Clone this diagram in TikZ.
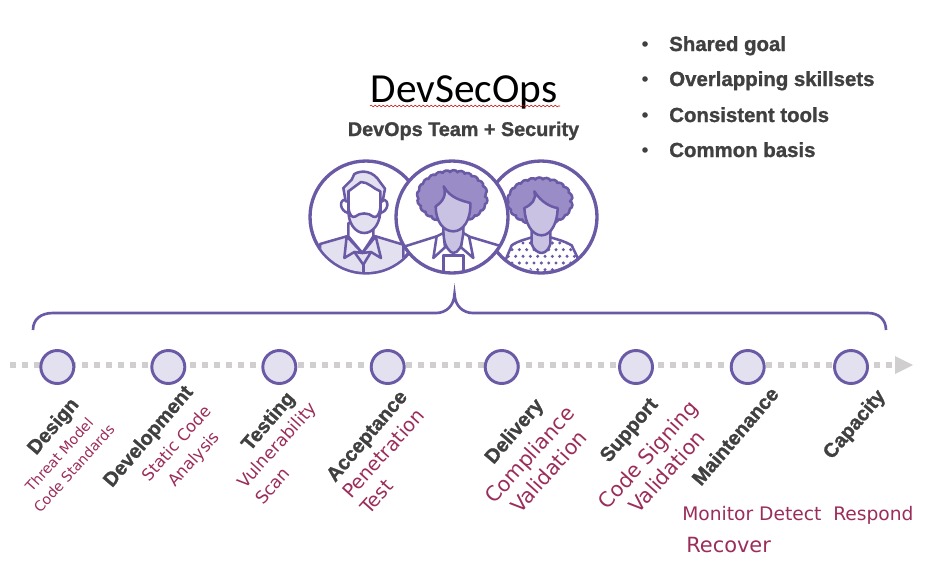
\documentclass[tikz,border=0pt]{standalone}
\usepackage{fontspec}
\setmainfont{Liberation Sans}[BoldFeatures={FakeBold=1.2}]
\newfontfamily\carl{Carlito}
\newfontfamily\djv{DejaVu Sans}
\usetikzlibrary{decorations.pathmorphing,arrows.meta}
\definecolor{pur}{HTML}{6A5AA6}
\definecolor{lt}{HTML}{E3E0F0}
\definecolor{mid}{HTML}{C9C2E2}
\definecolor{drk}{HTML}{9A8CC6}
\definecolor{grey}{HTML}{D0CECE}
\definecolor{ink}{HTML}{404040}
\definecolor{wine}{HTML}{9B2D5A}
\tikzset{
  x=0.75pt,y=-0.75pt,
  ring/.style={circle,draw=pur,line width=2.2pt,minimum size=33*0.75pt,inner sep=0pt,fill=lt},
  face/.style={circle,draw=pur,line width=2.5pt,minimum size=112*0.75pt,inner sep=0pt,fill=white},
  ln/.style={draw=pur,line width=1.9pt,line join=round,line cap=round},
  stage/.style={rotate=49.5,text=ink,font=\fontsize{15pt}{16pt}\selectfont\bfseries,inner sep=0pt},
  sub/.style={rotate=48,text=wine,align=center,inner sep=0pt},
  subl/.style={rotate=48,text=wine,align=left,inner sep=0pt},
  flat/.style={text=wine,inner sep=0pt,anchor=base west,font=\djv},
  bul/.style={text=ink,font=\fontsize{15.3pt}{17pt}\selectfont\bfseries,inner sep=0pt,anchor=base west},
  dotb/.style={text=ink,font=\fontsize{14.85pt}{17pt}\selectfont\bfseries,inner sep=0pt,anchor=base},
  bumpy/.style={decorate,decoration={bumps,segment length=11pt,amplitude=1.8pt}}
}
\begin{document}
\begin{tikzpicture}
\useasboundingbox (0,0) rectangle (930,568);
% title
\node[inner sep=0pt,anchor=base,font=\carl\fontsize{31pt}{33pt}\selectfont] (title) at (464,102) {DevSecOps};
\draw[red!75!black,line width=0.4pt,decorate,decoration={snake,segment length=3pt,amplitude=0.6pt}] (370,106) -- (560,106);
\node[dotb] (team) at (463.5,136) {DevOps Team + Security};
% bullets
\foreach \n/\y/\t in {b1/51/Shared goal,b2/86/Overlapping skillsets,b3/122/Consistent tools,b4/157/Common basis}{
  \node[bul] (\n) at (669,\y) {\t};
  \fill[ink] (645,\y-7) circle (2.8);
}
% face 3 (right)
\node[face] (f3) at (541,217) {};
\begin{scope}
\clip (541,217) circle (55);
\begin{scope}[shift={(490,158)},scale=1/3]
  \begin{scope}
    \clip (45,310) -- (65,262) .. controls (85,248) and (105,245) .. (125,238) -- (180,238) .. controls (205,245) and (225,250) .. (245,262) -- (268,310) -- (170,350) -- cycle;
    \foreach \px in {55,77,...,265}{\foreach \py/\o in {255/0,275/11,295/0,315/11,335/0}{
       \fill[pur] (\px+\o,\py) circle (5);}}
  \end{scope}
  \path[ln,fill=mid] (125,215) -- (125,258) .. controls (130,275) and (145,285) .. (155,285) .. controls (168,285) and (178,270) .. (181,258) -- (181,215) -- cycle;
  \draw[ln] (45,310) -- (65,262) .. controls (85,248) and (105,245) .. (125,238);
  \draw[ln] (181,238) .. controls (205,245) and (225,250) .. (245,262) -- (268,310);
  \path[ln,fill=drk,bumpy] (150,130) ellipse (90 and 64);
  \path[ln,fill=mid] (103,150) .. controls (105,195) and (125,232) .. (155,232) .. controls (185,232) and (203,190) .. (203,150) .. controls (185,148) and (155,135) .. (133,100) .. controls (140,125) and (125,140) .. (103,150) -- cycle;
\end{scope}
\end{scope}
% face 1 (left)
\node[face] (f1) at (366,217) {};
\begin{scope}
\clip (366,217) circle (55);
\begin{scope}[shift={(305,158)},scale=1/3]
  \path[ln,fill=lt] (45,258) -- (125,235) -- (212,235) -- (295,260) -- (295,350) -- (45,350) -- cycle;
  \path[ln,fill=white] (130,195) -- (130,235) -- (172,285) -- (205,235) -- (205,195) -- cycle;
  \path[ln,fill=lt] (125,235) -- (118,300) -- (148,282) -- (172,285) -- (125,235) -- cycle;
  \path[ln,fill=lt] (212,235) -- (228,300) -- (198,282) -- (172,285) -- (212,235) -- cycle;
  \draw[ln] (148,282) -- (175,320) -- (198,282);
  \draw[ln] (175,320) -- (175,345);
  \path[ln,fill=white] (122,125) .. controls (100,125) and (105,160) .. (130,165);
  \path[ln,fill=white] (233,125) .. controls (255,125) and (250,160) .. (226,165);
  % head
  \path[fill=white] (130,100) -- (130,165) .. controls (130,200) and (150,225) .. (178,225) .. controls (205,225) and (226,200) .. (226,165) -- (226,100) .. controls (205,92) and (190,72) .. (168,72) -- cycle;
  \path[ln,fill=lt] (130,150) .. controls (128,195) and (150,225) .. (178,225) .. controls (205,225) and (228,195) .. (226,150) .. controls (222,172) and (215,180) .. (205,176) .. controls (190,163) and (165,163) .. (150,176) .. controls (140,180) and (134,170) .. (130,150) -- cycle;
  \draw[ln] (130,100) -- (130,165);
  \draw[ln] (226,165) -- (226,100);
  % hair
  \path[ln,fill=lt] (122,130) -- (115,90) -- (140,65) -- (148,48) .. controls (170,35) and (205,38) .. (225,72) -- (240,92) -- (233,130) -- (226,130) -- (226,100) .. controls (205,92) and (190,72) .. (168,72) -- (130,100) -- (130,130) -- cycle;
\end{scope}
\end{scope}
% face 2 (centre)
\node[face] (f2) at (452,217) {};
\begin{scope}
\clip (452,217) circle (55);
\begin{scope}[shift={(395,158)},scale=1/3]
  \draw[ln] (30,265) -- (125,235);
  \draw[ln] (220,235) -- (320,265);
  \draw[ln] (145,292) -- (145,340);
  \draw[ln] (205,292) -- (205,340);
  \draw[ln] (145,292) -- (205,292);
  \path[ln,fill=mid] (145,205) -- (145,238) .. controls (150,265) and (165,285) .. (175,285) .. controls (190,285) and (202,262) .. (205,238) -- (205,205) -- cycle;
  \path[ln,fill=white] (125,235) -- (115,300) -- (150,268) -- (145,225) -- cycle;
  \path[ln,fill=white] (222,235) -- (235,300) -- (198,268) -- (205,225) -- cycle;
  \path[ln,fill=drk,bumpy] (172,116) ellipse (98 and 72);
  \path[ln,fill=mid] (122,145) .. controls (122,190) and (145,220) .. (175,220) .. controls (205,220) and (228,185) .. (226,135) .. controls (200,128) and (165,120) .. (146,85) .. controls (155,110) and (145,130) .. (122,145) -- cycle;
\end{scope}
\end{scope}
% brace
\coordinate (bl) at (33,330);
\coordinate (br) at (886,330);
\coordinate (bp) at (454.5,294);
\draw[draw=pur,line width=2pt]
  (bl) .. controls (33,319) and (41,313) .. (53,313) -- (436,313) .. controls (446,313) and (454,306) .. (bp)
  .. controls (455,306) and (463,313) .. (473,313) -- (868,313) .. controls (879,313) and (886,320) .. (br);
% timeline
\coordinate (ts) at (10,365);
\coordinate (te) at (895,365);
\coordinate (tip) at (913,365);
\draw[grey,line width=6*0.75pt,dash pattern=on 4.5pt off 4.5pt] (ts) -- (te);
\fill[grey] (895,356) -- (tip) -- (895,374) -- cycle;
\foreach \n/\x in {c1/57.3,c2/168.3,c3/279.3,c4/387.7,c5/501.7,c6/636,c7/747.7,c8/851}{
  \node[ring] (\n) at (\x,367) {};
}
% stages
\node[stage] (s1) at (54,427) {Design};
\node[stage] (s2) at (149,437) {Development};
\node[stage] (s3) at (269,422) {Testing};
\node[stage] (s4) at (368,437) {Acceptance};
\node[stage] (s5) at (515,432) {Delivery};
\node[stage] (s6) at (630,431) {Support};
\node[stage] (s7) at (735,436) {Maintenance};
\node[stage] (s8) at (855,425) {Capacity};
% sub-labels
\node[sub,font=\djv\fontsize{10.6pt}{15pt}\selectfont] (t1) at (66.6,461.6) {Threat Model\\Code Standards};
\node[sub,font=\djv\fontsize{12.3pt}{17.6pt}\selectfont] (t2) at (186,452) {Static Code\\Analysis};
\node[subl,font=\djv\fontsize{13pt}{18pt}\selectfont] (t3) at (285.6,453) {Vulnerability\\Scan};
\node[subl,font=\djv\fontsize{14.5pt}{18pt}\selectfont] (t4) at (392,461.4) {Penetration\\Test};
\node[sub,font=\djv\fontsize{15.5pt}{19pt}\selectfont] (t5) at (539,463) {Compliance\\Validation};
\node[sub,font=\djv\fontsize{15.5pt}{19pt}\selectfont] (t6) at (657.3,463) {Code Signing\\Validation};
\node[flat,font=\djv\fontsize{14pt}{15pt}\selectfont] (t7) at (682,520) {Monitor Detect\ \ Respond};
\node[flat,font=\djv\fontsize{15.7pt}{17pt}\selectfont] (t8) at (686,552) {Recover};
\end{tikzpicture}
\end{document}
